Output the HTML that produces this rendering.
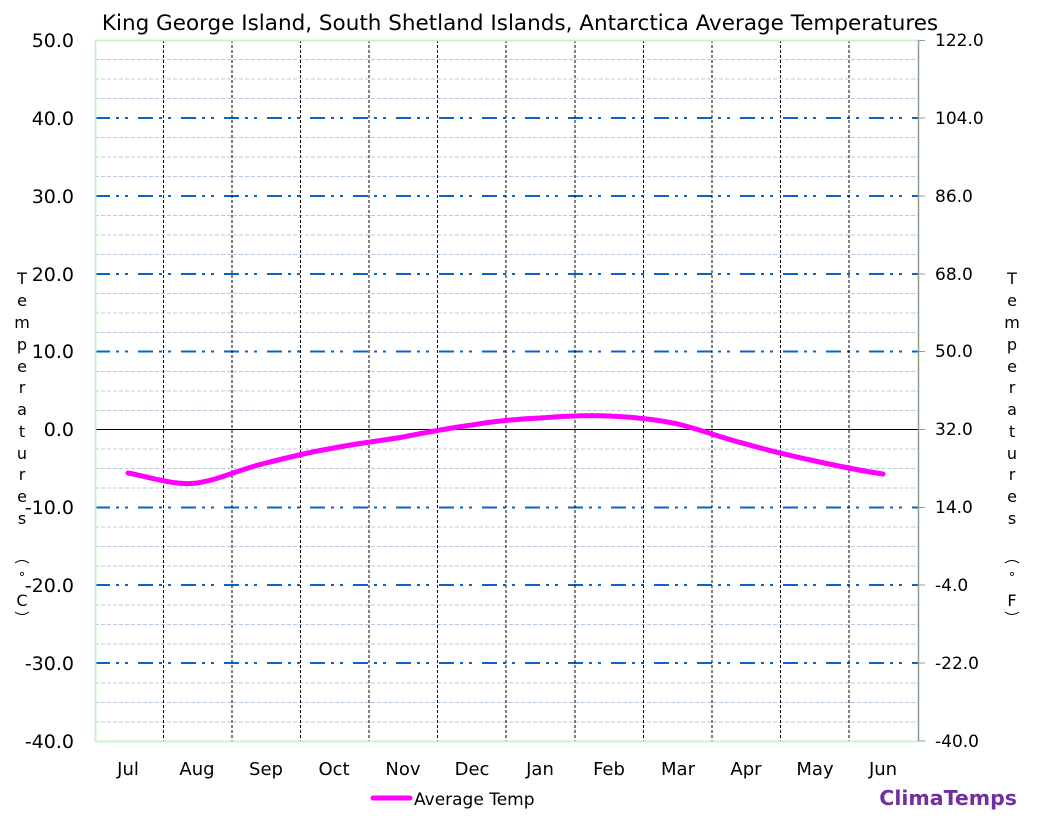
<!DOCTYPE html>
<html><head><style>body{margin:0;background:#fff}svg{display:block}</style></head><body>
<svg width="1037" height="821" xmlns="http://www.w3.org/2000/svg" font-family="DejaVu Sans, Liberation Sans, sans-serif">
<rect width="1037" height="821" fill="#fff"/>
<text x="520" y="30" font-size="21.5" text-anchor="middle" fill="#000">King George Island, South Shetland Islands, Antarctica Average  Temperatures</text>
<g stroke="#b8c8e0" stroke-width="1" stroke-dasharray="4 2">
<path d="M95 59.5H918M95 79H918M95 98.5H918M95 137.5H918M95 157H918M95 176.5H918M95 215.5H918M95 235H918M95 254.5H918M95 293.5H918M95 313H918M95 332.5H918M95 371.5H918M95 391H918M95 410.5H918M95 449H918M95 468.5H918M95 488H918M95 527H918M95 546.5H918M95 566H918M95 605H918M95 624.5H918M95 644H918M95 683H918M95 702.5H918M95 722H918"/>
</g>
<g stroke="#0a64c8" stroke-width="2" stroke-dasharray="15 6 3 6 3 10">
<path d="M95 118H918M95 196H918M95 274H918M95 351.5H918M95 507.5H918M95 585H918M95 663H918"/>
</g>
<g stroke="#000" stroke-width="1" stroke-dasharray="3 2">
<path d="M163.5 40V741M232 40V741M300.5 40V741M369 40V741M437.5 40V741M506 40V741M575 40V741M643.5 40V741M712 40V741M780.5 40V741M849 40V741"/>
</g>
<path d="M95 429.5H918" stroke="#000" stroke-width="1"/>
<path d="M95.5 40V741.5H918M95 40.5H918" stroke="#c8f5c8" stroke-width="2" fill="none"/>
<path d="M918.5 40V741" stroke="#8aa08a" stroke-width="1.5"/>
<g stroke="#999" stroke-width="1"><path d="M918 40.5h7M918 118h7M918 196h7M918 274h7M918 351.5h7M918 429.5h7M918 507.5h7M918 585h7M918 663h7M918 741h7"/></g>
<path d="M128 473 C150 477,175 486,197 483 C222 479,240 469,266 463 C290 457,310 452,334 448 C358 443,380 441,403 437 C428 432,450 428,472 425 C495 421,518 419,540 418 C565 416,588 415,609 416 C632 417,655 419,678 424 C702 430,722 438,746 444 C770 451,792 456,815 461 C838 466,862 471,883 474" stroke="#ff00ff" stroke-width="5" fill="none" stroke-linecap="round"/>
<g font-size="19" text-anchor="end" fill="#000">
<text x="74" y="47">50.0</text><text x="74" y="125">40.0</text><text x="74" y="203">30.0</text><text x="74" y="281">20.0</text><text x="74" y="358">10.0</text><text x="74" y="436">0.0</text><text x="74" y="514">-10.0</text><text x="74" y="592">-20.0</text><text x="74" y="670">-30.0</text><text x="74" y="748">-40.0</text>
</g>
<g font-size="17" fill="#000">
<text x="935" y="46">122.0</text><text x="935" y="124">104.0</text><text x="935" y="202">86.0</text><text x="935" y="280">68.0</text><text x="935" y="357">50.0</text><text x="935" y="435">32.0</text><text x="935" y="513">14.0</text><text x="935" y="591">-4.0</text><text x="935" y="669">-22.0</text><text x="935" y="747">-40.0</text>
</g>
<g font-size="16" text-anchor="middle" fill="#000">
<text x="22" y="284">T</text><text x="22" y="306">e</text><text x="22" y="328">m</text><text x="22" y="350">p</text><text x="22" y="372">e</text><text x="22" y="393">r</text><text x="22" y="415">a</text><text x="22" y="437">t</text><text x="22" y="459">u</text><text x="22" y="480">r</text><text x="22" y="502">e</text><text x="22" y="524">s</text>
<text x="22" y="582" font-size="13">°</text><text x="22" y="606">C</text>
<text x="1012" y="284">T</text><text x="1012" y="306">e</text><text x="1012" y="328">m</text><text x="1012" y="350">p</text><text x="1012" y="372">e</text><text x="1012" y="393">r</text><text x="1012" y="415">a</text><text x="1012" y="437">t</text><text x="1012" y="459">u</text><text x="1012" y="480">r</text><text x="1012" y="502">e</text><text x="1012" y="524">s</text>
<text x="1012" y="582" font-size="13">°</text><text x="1012" y="606">F</text>
</g>
<g stroke="#000" stroke-width="1" fill="none">
<path d="M15 563 Q22 558 29 563M15 612 Q22 617 29 612M1005 563 Q1012 558 1019 563M1005 612 Q1012 617 1019 612"/>
</g>
<g font-size="18" text-anchor="middle" fill="#000">
<text x="128" y="775">Jul</text><text x="197" y="775">Aug</text><text x="266" y="775">Sep</text><text x="334" y="775">Oct</text><text x="403" y="775">Nov</text><text x="472" y="775">Dec</text><text x="540" y="775">Jan</text><text x="609" y="775">Feb</text><text x="678" y="775">Mar</text><text x="746" y="775">Apr</text><text x="815" y="775">May</text><text x="883" y="775">Jun</text>
</g>
<path d="M373 798H410" stroke="#ff00ff" stroke-width="5" stroke-linecap="round"/>
<text x="414" y="805" font-size="17" fill="#000">Average Temp</text>
<text x="1017" y="805" font-size="20.5" font-weight="bold" text-anchor="end" fill="#7030a0">ClimaTemps</text>
</svg>
</body></html>
